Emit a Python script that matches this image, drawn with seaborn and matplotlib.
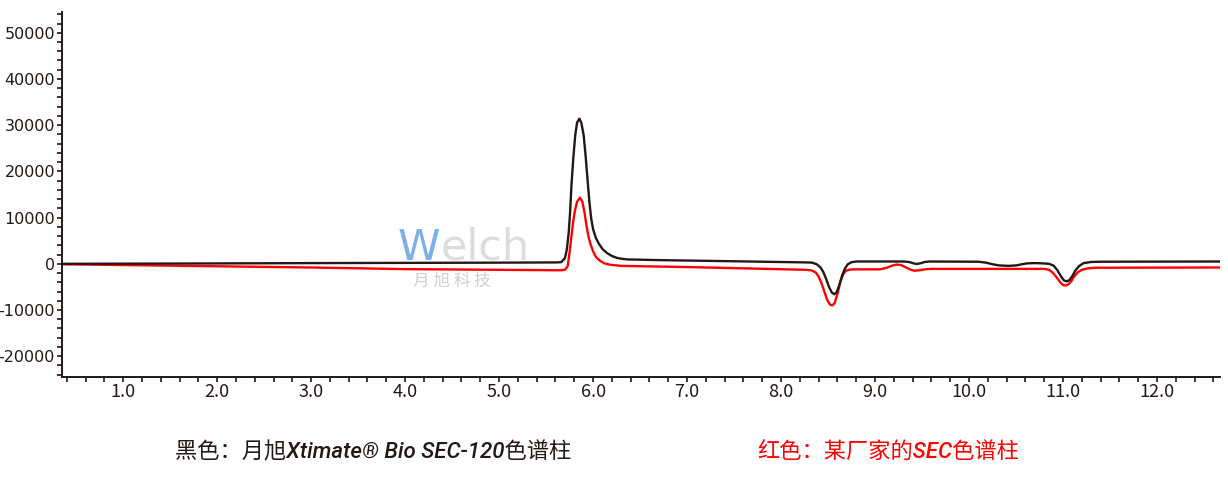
import matplotlib
matplotlib.use('Agg')
import matplotlib.pyplot as plt
from matplotlib.ticker import MultipleLocator
import seaborn as sns
import pandas as pd

# retention time (min) and signal
black_time = [0.35, 1.5, 3.0, 4.0, 5.0, 5.6, 5.66, 5.70, 5.72, 5.74, 5.755, 5.77,
              5.79, 5.81, 5.83, 5.855, 5.875, 5.90, 5.92, 5.94, 5.96, 5.98, 6.00,
              6.03, 6.06, 6.10, 6.15, 6.20, 6.25, 6.30, 6.36, 6.7, 7.5,
              8.27, 8.33, 8.38, 8.42, 8.45, 8.48, 8.51, 8.54, 8.565, 8.59, 8.62,
              8.65, 8.68, 8.71, 8.75, 8.8, 9.3, 9.36, 9.41, 9.44, 9.48, 9.53, 9.58,
              10.1, 10.18, 10.25, 10.32, 10.42, 10.5, 10.56, 10.62, 10.7, 10.78,
              10.85, 10.9, 10.94, 10.98, 11.01, 11.04, 11.07, 11.1, 11.13, 11.17,
              11.22, 11.3, 11.4, 12.67]
black_signal = [0, 50, 150, 200, 250, 300, 350, 1200, 3000, 6600, 11000, 17000,
                23000, 27800, 30600, 31400, 30500, 27800, 23500, 18500, 13500, 9800, 7500,
                5600, 4400, 3200, 2300, 1700, 1300, 1100, 950, 800, 550,
                300, 250, -100, -800, -1800, -3300, -5000, -6200, -6600, -6200, -4600,
                -2500, -1000, -100, 350, 500, 500, 400, 100, -50, 100, 400, 500,
                450, 250, -100, -350, -450, -350, -100, 100, 150, 100,
                0, -400, -1400, -2800, -3600, -3800, -3500, -2600, -1500, -500,
                150, 400, 450, 500]

red_time = [0.35, 1.5, 3.0, 4.0, 5.0, 5.65, 5.70, 5.73, 5.75, 5.77, 5.79, 5.81,
            5.83, 5.86, 5.885, 5.91, 5.93, 5.95, 5.97, 6.00, 6.03, 6.07, 6.12,
            6.18, 6.25, 6.3, 7.0, 8.27, 8.33, 8.37, 8.40, 8.43, 8.46, 8.49, 8.52,
            8.545, 8.57, 8.60, 8.63, 8.66, 8.69, 8.73, 8.78, 9.05, 9.12, 9.18, 9.23,
            9.28, 9.33, 9.38, 9.42, 9.47, 9.53, 9.6, 10.8, 10.85, 10.89, 10.93,
            10.97, 11.0, 11.03, 11.06, 11.09, 11.12, 11.16, 11.2, 11.26, 11.35, 12.67]
red_signal = [-100, -400, -800, -1150, -1300, -1400, -1300, -500, 2500, 6000, 9400, 11800,
              13400, 14300, 13500, 11000, 8200, 6000, 4400, 2700, 1500, 700, 100,
              -200, -350, -450, -700, -1300, -1450, -1900, -2800, -4200, -6000, -7800, -8800,
              -9000, -8500, -6500, -4000, -2300, -1500, -1250, -1200, -1200, -900, -400, -150,
              -300, -800, -1300, -1500, -1400, -1200, -1100, -1100, -1300, -1900, -2900,
              -4000, -4600, -4700, -4400, -3700, -2700, -1800, -1300, -1000, -850, -800]

x_ticks = [1.0, 2.0, 3.0, 4.0, 5.0, 6.0, 7.0, 8.0, 9.0, 10.0, 11.0, 12.0]
y_ticks = [-20000, -10000, 0, 10000, 20000, 30000, 40000, 50000]

caption_black = '黑色：月旭Xtimate® Bio SEC-120色谱柱'
caption_red = '红色：某厂家的SEC色谱柱'

sns.set_style('ticks')
plt.rcParams['font.family'] = ['DejaVu Sans', 'Noto Sans CJK SC']
plt.rcParams['axes.unicode_minus'] = False

ink = '#231815'
black_df = pd.DataFrame({'time': black_time, 'signal': black_signal})
red_df = pd.DataFrame({'time': red_time, 'signal': red_signal})

fig = plt.figure(figsize=(12.28, 4.92), dpi=100)
ax = fig.add_axes([0.0505, 0.2337, 0.943, 0.742])

sns.lineplot(data=red_df, x='time', y='signal', color='#ff0000', lw=1.7, ax=ax, sort=False)
sns.lineplot(data=black_df, x='time', y='signal', color=ink, lw=1.7, ax=ax, sort=False)

ax.set_xlim(0.35, 12.67)
ax.set_ylim(-24500, 54500)
ax.set_xticks(x_ticks)
ax.set_xticklabels([f'{t:.1f}' for t in x_ticks], family='Noto Sans CJK SC', fontsize=13, color=ink)
ax.set_yticks(y_ticks)
ax.set_yticklabels([str(v) for v in y_ticks], fontsize=11.5, color=ink)
ax.xaxis.set_minor_locator(MultipleLocator(0.2))
ax.yaxis.set_minor_locator(MultipleLocator(2000))
ax.tick_params(which='both', length=3.5, width=1.2, color=ink, pad=1.5)
ax.tick_params(axis='x', which='major', pad=1)
ax.set_xlabel('')
ax.set_ylabel('')
sns.despine(ax=ax)
for s in ['left', 'bottom']:
    ax.spines[s].set_color(ink)
    ax.spines[s].set_linewidth(1.4)

# faint company watermark
fig.text(398 / 1228, 1 - 260 / 492, 'W', fontsize=31, color='#5b9be6', alpha=0.8,
         va='baseline', ha='left', family='DejaVu Sans')
fig.text(441 / 1228, 1 - 260 / 492, 'elch', fontsize=31, color='#d9d9d9', alpha=0.9,
         va='baseline', ha='left', family='DejaVu Sans')
fig.text(413 / 1228, 1 - 286 / 492, '月 旭 科 技', fontsize=12, color='#d0d0d0',
         va='baseline', ha='left', family='Noto Sans CJK SC')

cap_family = ['Roboto', 'Noto Sans CJK SC']
fig.text(175 / 1228, 1 - 453 / 492, caption_black, fontsize=16, color=ink, weight='medium',
         va='center', ha='left', family=cap_family, style='italic')
fig.text(757 / 1228, 1 - 453 / 492, caption_red, fontsize=16, color='#ff0000', weight='medium',
         va='center', ha='left', family=cap_family, style='italic')

fig.savefig('out.png', dpi=100)
